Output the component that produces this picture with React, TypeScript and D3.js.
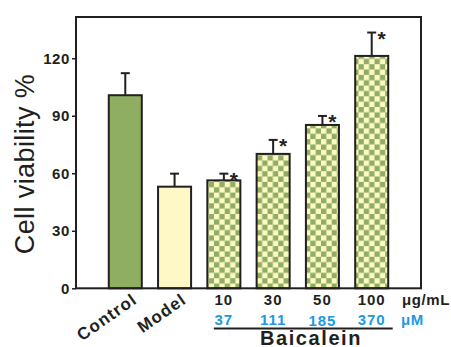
import * as React from 'react';
import * as d3 from 'd3';

const groups = ['Control', 'Model', '10', '30', '50', '100'];
const means = [100.7, 53.0, 56.3, 70.1, 85.2, 121.2];
const errors = [11.5, 6.8, 3.5, 7.3, 4.7, 12.2];
const molar = ['', '', '37', '111', '185', '370'];
const starred = [false, false, true, true, true, true];
const yTicks = [0, 30, 60, 90, 120];

const INK = '#231f20';
const GREEN = '#8fae62';
const CREAM = '#fef8c6';
const BLUE = '#1b9ae3';
const FONT = '"Liberation Sans", Arial, sans-serif';

const App: React.FC = () => {
    const ref = React.useRef<SVGSVGElement>(null);

    React.useEffect(() => {
        const left = 76, right = 421, top = 17, bottom = 288.3;
        const svg = d3.select(ref.current);
        svg.selectAll('*').remove();

        const x = d3.scaleBand<string>()
            .domain(groups)
            .range([left, right])
            .paddingInner(0.33)
            .paddingOuter(0.665);
        const y = d3.scaleLinear().domain([0, 141.5]).range([bottom, top]);

        // checker fill
        const cell = 5.35;
        const pat = svg.append('defs').append('pattern')
            .attr('id', 'checker')
            .attr('patternUnits', 'userSpaceOnUse')
            .attr('width', cell * 2)
            .attr('height', cell * 2);
        pat.append('rect').attr('width', cell * 2).attr('height', cell * 2).attr('fill', GREEN);
        pat.append('rect').attr('width', cell).attr('height', cell).attr('fill', CREAM);
        pat.append('rect').attr('x', cell).attr('y', cell).attr('width', cell).attr('height', cell).attr('fill', CREAM);

        const fills = (i: number) => (i === 0 ? GREEN : i === 1 ? CREAM : 'url(#checker)');

        // error bars (upper only)
        const eb = svg.append('g').attr('stroke', INK).attr('stroke-width', 2);
        groups.forEach((g, i) => {
            const cx = x(g)! + x.bandwidth() / 2;
            const yt = y(means[i] + errors[i]);
            eb.append('line').attr('x1', cx).attr('x2', cx).attr('y1', y(means[i])).attr('y2', yt);
            eb.append('line').attr('x1', cx - 4.5).attr('x2', cx + 4.5).attr('y1', yt).attr('y2', yt);
        });

        svg.append('g').selectAll('rect')
            .data(groups)
            .join('rect')
            .attr('x', d => x(d)!)
            .attr('y', (d, i) => y(means[i]))
            .attr('width', x.bandwidth())
            .attr('height', (d, i) => bottom - y(means[i]))
            .attr('fill', (d, i) => fills(i))
            .attr('stroke', INK)
            .attr('stroke-width', 2);

        // significance marks
        svg.append('g').selectAll('text')
            .data(groups.filter((d, i) => starred[i]))
            .join('text')
            .attr('x', d => x(d)! + x.bandwidth() / 2 + 10)
            .attr('y', d => y(means[groups.indexOf(d)] + errors[groups.indexOf(d)]) + 13)
            .attr('text-anchor', 'middle')
            .attr('font-family', FONT)
            .attr('font-weight', 'bold')
            .attr('font-size', 21)
            .attr('fill', INK)
            .text('*');

        // frame
        svg.append('rect')
            .attr('x', left).attr('y', top)
            .attr('width', right - left).attr('height', bottom - top)
            .attr('fill', 'none').attr('stroke', INK).attr('stroke-width', 2);

        // y axis
        const yAxis = svg.append('g')
            .attr('transform', `translate(${left},0)`)
            .call(d3.axisLeft(y).tickValues(yTicks).tickSize(4).tickPadding(2));
        yAxis.select('.domain').remove();
        yAxis.selectAll('line').attr('stroke', INK).attr('stroke-width', 1.5);
        yAxis.selectAll('text')
            .attr('font-family', FONT)
            .attr('font-weight', 'bold')
            .attr('font-size', 15)
            .attr('letter-spacing', 0.6)
            .attr('fill', INK);

        svg.append('text')
            .attr('transform', `translate(34,164) rotate(-90)`)
            .attr('text-anchor', 'middle')
            .attr('font-family', FONT)
            .attr('font-size', 27)
            .attr('letter-spacing', 0.4)
            .attr('fill', INK)
            .text('Cell viability %');

        // x labels
        const lab = svg.append('g')
            .attr('font-family', FONT)
            .attr('font-weight', 'bold')
            .attr('fill', INK);
        groups.slice(0, 2).forEach(g => {
            const cx = x(g)! + x.bandwidth() / 2;
            lab.append('text')
                .attr('transform', `translate(${cx + 13},${302}) rotate(-35)`)
                .attr('text-anchor', 'end')
                .attr('font-size', 17)
                .attr('letter-spacing', 1.2)
                .text(g);
        });
        groups.slice(2).forEach((g, k) => {
            const cx = x(g)! + x.bandwidth() / 2;
            lab.append('text')
                .attr('x', cx).attr('y', 304.5)
                .attr('text-anchor', 'middle')
                .attr('font-size', 15)
                .attr('letter-spacing', 1)
                .text(g);
            lab.append('text')
                .attr('x', cx).attr('y', g === '50' ? 325.5 : 324.5)
                .attr('text-anchor', 'middle')
                .attr('font-size', 15)
                .attr('letter-spacing', 1)
                .attr('fill', BLUE)
                .text(molar[k + 2]);
        });
        lab.append('text')
            .attr('x', 402).attr('y', 304.5)
            .attr('font-size', 15)
            .attr('letter-spacing', 0.6)
            .text('μg/mL');
        lab.append('text')
            .attr('x', 401).attr('y', 324.5)
            .attr('font-size', 15)
            .attr('letter-spacing', 0.6)
            .attr('fill', BLUE)
            .text('μM');

        const first = x(groups[2])! + x.bandwidth() / 2;
        const last = x(groups[5])! + x.bandwidth() / 2;
        svg.append('line')
            .attr('x1', first - 10).attr('x2', last + 21)
            .attr('y1', 328.5).attr('y2', 328.5)
            .attr('stroke', INK).attr('stroke-width', 2.2);
        svg.append('text')
            .attr('x', 311).attr('y', 345)
            .attr('text-anchor', 'middle')
            .attr('font-family', FONT)
            .attr('font-weight', 'bold')
            .attr('font-size', 20)
            .attr('letter-spacing', 1.6)
            .attr('fill', INK)
            .text('Baicalein');
    }, []);

    return (
        <svg ref={ref} width={451} height={347}
            style={{ position: 'absolute', left: 0, top: 0, background: '#fff' }} />
    );
};

export default App;
